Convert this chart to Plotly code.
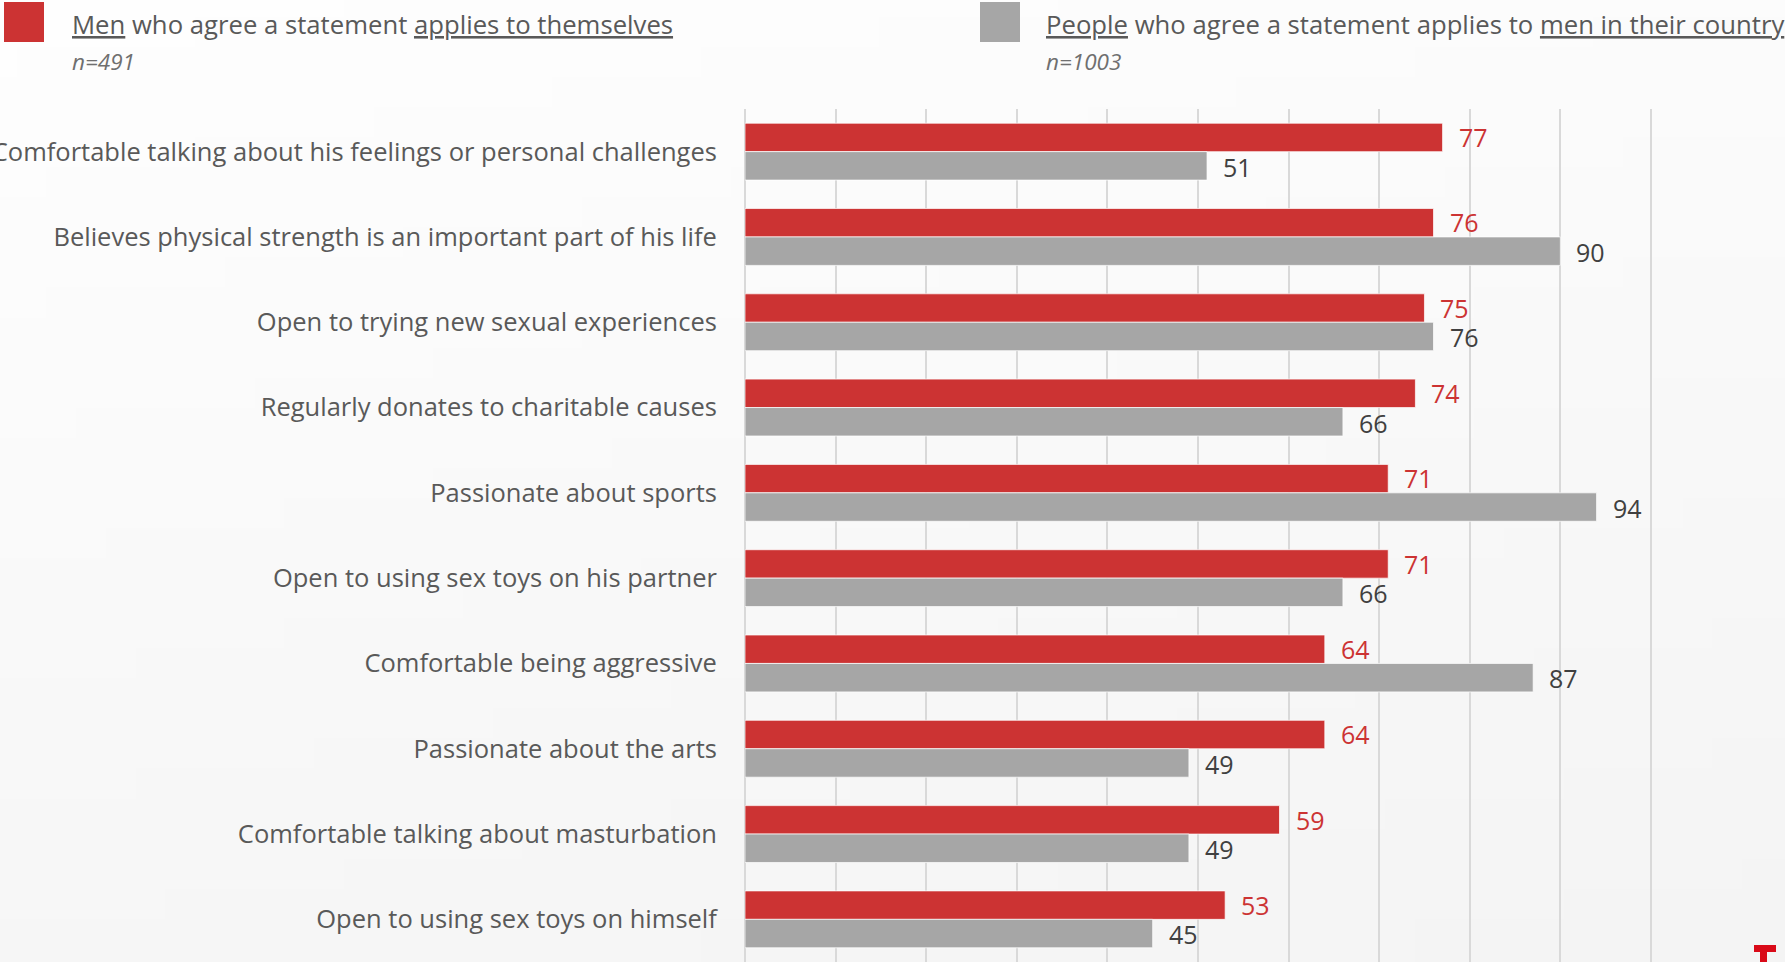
import base64
import struct
import zlib

import plotly.graph_objects as go

# ---- data -------------------------------------------------------------
categories = [
    "Comfortable talking about his feelings or personal challenges",
    "Believes physical strength is an important part of his life",
    "Open to trying new sexual experiences",
    "Regularly donates to charitable causes",
    "Passionate about sports",
    "Open to using sex toys on his partner",
    "Comfortable being aggressive",
    "Passionate about the arts",
    "Comfortable talking about masturbation",
    "Open to using sex toys on himself",
]
men_self = [77, 76, 75, 74, 71, 71, 64, 64, 59, 53]
people_about_men = [51, 90, 76, 66, 94, 66, 87, 49, 49, 45]

series_names = [
    "<u>Men</u> who agree a statement <u>applies to themselves</u>",
    "<u>People</u> who agree a statement applies to <u>men in their country</u>",
]
sample_sizes = ["n=491", "n=1003"]

# ---- style ------------------------------------------------------------
RED = "#CC3333"
GREY = "#A6A6A6"
TEXT = "#595959"
FONT = "Open Sans"

W, H = 1785, 962
PLOT_L, PLOT_W = 745, 915
PLOT_T, PLOT_H = 109, 853


def px(xp):
    return (xp - PLOT_L) / PLOT_W


def py(yp):
    return 1 - (yp - PLOT_T) / PLOT_H


def gradient_png(w=60, h=32):
    """Soft grey backdrop, lighter towards the top-left corner."""
    rows = b""
    for j in range(h):
        row = b"\x00"
        for i in range(w):
            t = 0.75 * j / (h - 1) + 0.25 * i / (w - 1)
            v = int(round(254 - 10 * t))
            row += bytes([v, v, v])
        rows += row

    def chunk(tag, data):
        c = struct.pack(">I", len(data)) + tag + data
        return c + struct.pack(">I", zlib.crc32(tag + data) & 0xFFFFFFFF)

    png = b"\x89PNG\r\n\x1a\n"
    png += chunk(b"IHDR", struct.pack(">IIBBBBB", w, h, 8, 2, 0, 0, 0))
    png += chunk(b"IDAT", zlib.compress(rows, 9))
    png += chunk(b"IEND", b"")
    return "data:image/png;base64," + base64.b64encode(png).decode()


fig = go.Figure()
fig.add_trace(go.Bar(
    y=categories, x=men_self, orientation="h", name="men_self",
    marker=dict(color=RED, line=dict(color="rgba(255,255,255,0.7)", width=1)),
    hoverinfo="x+y",
))
fig.add_trace(go.Bar(
    y=categories, x=people_about_men, orientation="h", name="people_about_men",
    marker=dict(color=GREY, line=dict(color="rgba(255,255,255,0.7)", width=1)),
    hoverinfo="x+y",
))

annotations = []
# value labels next to each bar end
for cat, v in zip(categories, men_self):
    annotations.append(dict(
        x=v, y=cat, xref="x", yref="y", text=str(v), showarrow=False,
        xanchor="left", yanchor="middle", xshift=14, yshift=14.5,
        font=dict(family=FONT, size=25, color=RED),
    ))
for cat, v in zip(categories, people_about_men):
    annotations.append(dict(
        x=v, y=cat, xref="x", yref="y", text=str(v), showarrow=False,
        xanchor="left", yanchor="middle", xshift=14, yshift=-15,
        font=dict(family=FONT, size=25, color="#404040"),
    ))

# legend block at the top
legend_x = [70, 1044]
for lx, name, n in zip(legend_x, series_names, sample_sizes):
    annotations.append(dict(
        x=px(lx), y=py(24), xref="paper", yref="paper", text=name,
        showarrow=False, xanchor="left", yanchor="middle",
        font=dict(family=FONT, size=25.7, color=TEXT),
    ))
    annotations.append(dict(
        x=px(lx), y=py(61), xref="paper", yref="paper", text=f"<i>{n}</i>",
        showarrow=False, xanchor="left", yanchor="middle",
        font=dict(family=FONT, size=22.5, color="#6f6f6f"),
    ))

shapes = [
    dict(type="rect", xref="paper", yref="paper", x0=px(4), x1=px(44),
         y0=py(42), y1=py(2), fillcolor=RED, line=dict(width=0)),
    dict(type="rect", xref="paper", yref="paper", x0=px(980), x1=px(1020),
         y0=py(42), y1=py(2), fillcolor=GREY, line=dict(width=0)),
    # corner logo mark
    dict(type="rect", xref="paper", yref="paper", x0=px(1754), x1=px(1776),
         y0=py(952), y1=py(945), fillcolor="#D90A18", line=dict(width=0)),
    dict(type="rect", xref="paper", yref="paper", x0=px(1760), x1=px(1767),
         y0=py(965), y1=py(951), fillcolor="#D90A18", line=dict(width=0)),
]

fig.update_layout(
    width=W, height=H,
    margin=dict(l=PLOT_L, r=W - PLOT_L - PLOT_W, t=PLOT_T, b=0, pad=0),
    barmode="group", bargap=1 / 3, bargroupgap=0,
    showlegend=False,
    paper_bgcolor="#f7f7f7", plot_bgcolor="rgba(0,0,0,0)",
    font=dict(family=FONT, color=TEXT),
    annotations=annotations, shapes=shapes,
    images=[dict(source=gradient_png(), xref="paper", yref="paper",
                 x=px(0), y=py(0), sizex=W / PLOT_W, sizey=H / PLOT_H,
                 xanchor="left", yanchor="top", sizing="stretch",
                 layer="below")],
)
fig.update_xaxes(
    range=[0, 101], dtick=10, tick0=0, showticklabels=False,
    showgrid=True, gridcolor="#d9d9d9", gridwidth=1.5,
    zeroline=True, zerolinecolor="#d9d9d9", zerolinewidth=1.5,
    showline=False, fixedrange=True,
)
fig.update_yaxes(
    autorange="reversed", automargin=False,
    ticks="outside", ticklen=22, tickcolor="rgba(0,0,0,0)",
    tickfont=dict(family=FONT, size=25.5, color=TEXT),
    showgrid=False, showline=False, fixedrange=True,
)

fig.write_html("out.html")
